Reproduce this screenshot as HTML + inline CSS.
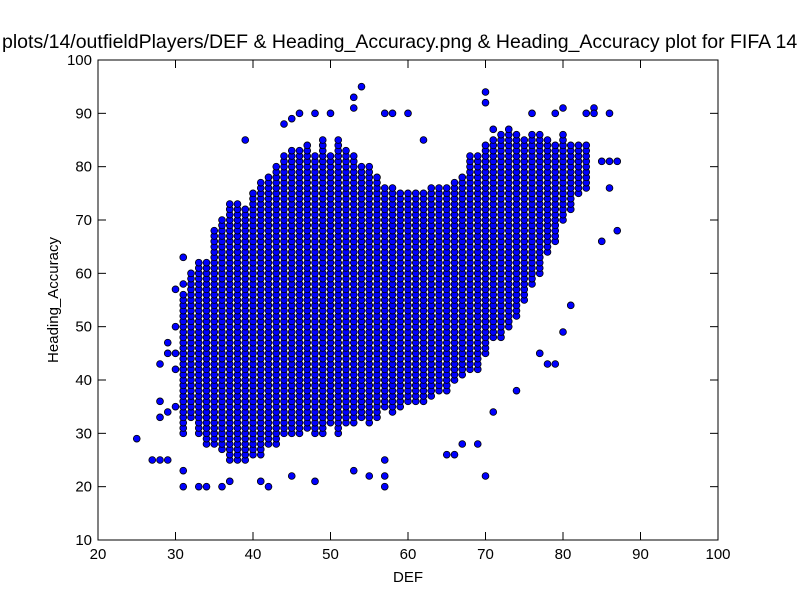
<!DOCTYPE html>
<html><head><meta charset="utf-8"><style>
html,body{margin:0;padding:0;background:#fff;overflow:hidden;}
svg text{font-family:"Liberation Sans",sans-serif;}
</style></head><body>
<svg id="chart" width="800" height="600" xmlns="http://www.w3.org/2000/svg">
<rect x="0" y="0" width="800" height="600" fill="#fff"/>
<text x="2" y="48" font-size="19.5">plots/14/outfieldPlayers/DEF &amp; Heading_Accuracy.png &amp; Heading_Accuracy plot for FIFA 14</text>
<g id="points"></g>
<rect x="98" y="60" width="620" height="480" fill="none" stroke="#000" stroke-width="1"/>
<g id="axes"></g>
<text x="408" y="582" font-size="15" text-anchor="middle">DEF</text>
<text x="58" y="300" font-size="15" text-anchor="middle" transform="rotate(-90 58 300)">Heading_Accuracy</text>
</svg>
<script>
// dense columns: DEF value, lowest and highest Heading_Accuracy in the filled band
const colDef  = [31,32,33,34,35,36,37,38,39,40,41,42,43,44,45,46,47,48,49,50,51,52,53,54,55,56,57,58,59,60,61,62,63,64,65,66,67,68,69,70,71,72,73,74,75,76,77,78,79,80,81,82,83];
const colLow  = [30,33,30,28,28,27,25,25,25,26,26,28,28,30,30,30,31,30,30,32,30,32,32,33,32,33,35,34,35,36,36,36,37,38,38,40,41,42,42,45,48,48,50,52,55,58,60,64,66,70,72,75,76];
const colHigh = [56,60,62,62,68,70,73,73,72,75,77,78,80,82,83,83,84,82,85,82,85,83,82,80,80,78,76,76,75,75,75,75,76,76,76,77,78,82,82,84,85,86,86,86,85,86,86,85,84,86,84,84,84];
// sparse outlier points
const outX = [25,27,28,28,28,28,29,29,29,29,30,30,30,30,30,31,31,31,31,33,34,36,37,41,42,45,48,53,55,57,57,57,65,66,67,69,70,71,74,77,78,79,80,81,85,86,87,87,86,85,84,84,86,80,83,79,76,73,71,62,60,58,57,54,53,53,50,48,46,45,44,39,70,70];
const outY = [29,25,36,33,43,25,47,45,34,25,57,50,45,42,35,63,58,20,23,20,20,20,21,21,20,22,21,23,22,20,22,25,26,26,28,28,22,34,38,45,43,43,49,54,66,76,68,81,81,81,91,90,90,91,90,90,90,87,87,85,90,90,90,95,93,91,90,90,90,89,88,85,94,92];
const xTicks = [20,30,40,50,60,70,80,90,100];
const yTicks = [10,20,30,40,50,60,70,80,90,100];

const NS='http://www.w3.org/2000/svg';
const X0=98,X1=718,Y0=540,Y1=60;
function sx(v){return X0+(v-20)/80*(X1-X0);}
function sy(v){return Y0-(v-10)/90*(Y0-Y1);}
const pts=document.getElementById('points');
function dot(x,y){
  const c=document.createElementNS(NS,'circle');
  c.setAttribute('cx',sx(x).toFixed(2));c.setAttribute('cy',sy(y).toFixed(2));
  c.setAttribute('r','3.4');c.setAttribute('fill','#0000ff');c.setAttribute('stroke','#000');c.setAttribute('stroke-width','0.8');
  
  
  pts.appendChild(c);
}
for(let i=0;i<colDef.length;i++){for(let y=colLow[i];y<=colHigh[i];y++)dot(colDef[i],y);}
for(let i=0;i<outX.length;i++)dot(outX[i],outY[i]);

const ax=document.getElementById('axes');
function line(x1,y1,x2,y2,name){
  const l=document.createElementNS(NS,'line');
  l.setAttribute('x1',x1);l.setAttribute('y1',y1);l.setAttribute('x2',x2);l.setAttribute('y2',y2);
  l.setAttribute('stroke','#000');l.setAttribute('stroke-width','1');
  
  
  ax.appendChild(l);
}
function txt(x,y,s,anchor,name){
  const t=document.createElementNS(NS,'text');
  t.setAttribute('x',x);t.setAttribute('y',y);t.setAttribute('font-size','15');t.setAttribute('text-anchor',anchor);
  t.textContent=s;
  
  
  ax.appendChild(t);
}
xTicks.forEach(v=>{const x=sx(v);line(x,Y0,x,Y0-8,'x-tick');line(x,Y1,x,Y1+8,'x-tick-top');txt(x,Y0+19,String(v),'middle','x-tick-label');});
yTicks.forEach(v=>{const y=sy(v);line(X0,y,X0+8,y,'y-tick');line(X1,y,X1-8,y,'y-tick-right');txt(X0-6,y+5,String(v),'end','y-tick-label');});
</script>
</body></html>
